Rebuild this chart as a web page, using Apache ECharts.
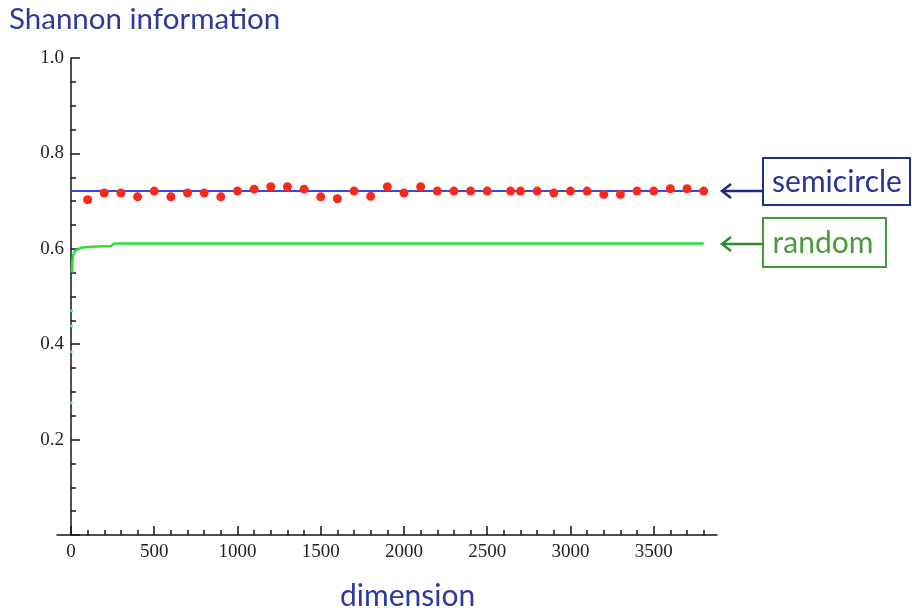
<!DOCTYPE html>
<html>
<head>
<meta charset="utf-8">
<script src="https://cdn.jsdelivr.net/npm/echarts@6/dist/echarts.min.js"></script>
<style>
html,body{margin:0;padding:0;background:#fff;}
#chart{width:912px;height:611px;}
</style>
</head>
<body>
<div id="chart"></div>
<script>
// ---- data ----
const semicircleDims = [100,200,300,400,500,600,700,800,900,1000,1100,1200,1300,1400,1500,1600,1700,1800,1900,2000,2100,2200,2300,2400,2500,2640,2700,2800,2900,3000,3100,3200,3300,3400,3500,3600,3700,3800];
const semicircleInfo = [0.703,0.717,0.717,0.709,0.721,0.709,0.717,0.717,0.709,0.721,0.725,0.730,0.730,0.725,0.709,0.705,0.721,0.710,0.730,0.717,0.730,0.721,0.721,0.721,0.721,0.721,0.721,0.721,0.717,0.721,0.721,0.714,0.714,0.721,0.721,0.726,0.726,0.721];
const semicircleLimitDims = [0, 3800];
const semicircleLimit = [0.7213, 0.7213];
const randomDims = [5, 8, 12, 20, 35, 60, 100, 150, 240, 260, 3800];
const randomInfo = [0.55, 0.57, 0.585, 0.593, 0.598, 0.602, 0.604, 0.605, 0.606, 0.611, 0.611];
const randomEarlyDims = [1, 2, 3, 4];
const randomEarlyInfo = [0.277, 0.384, 0.438, 0.47];
const xMajorTicks = [0,500,1000,1500,2000,2500,3000,3500];
const xMinorTicks = [100,200,300,400,600,700,800,900,1100,1200,1300,1400,1600,1700,1800,1900,2100,2200,2300,2400,2600,2700,2800,2900,3100,3200,3300,3400,3600,3700,3800];
const titleText = 'Shannon information';
const xTitle = 'dimension';
const labelSemicircle = 'semicircle';
const labelRandom = 'random';

const zip = (a, b) => a.map((v, i) => [v, b[i]]);

const chart = echarts.init(document.getElementById('chart'), null, {renderer: 'canvas'});
const serif = 'Liberation Serif';
const sans = 'Lato';
const axisColor = '#151515';

chart.setOption({
  animation: false,
  backgroundColor: '#ffffff',
  title: [
    {text: titleText, left: 4, top: -1, textStyle: {fontFamily: sans, fontSize: 29.5, fontWeight: 'normal', color: '#2d3a98'}},
    {text: xTitle, left: 335, top: 576, textStyle: {fontFamily: sans, fontSize: 30, fontWeight: 'normal', color: '#2a3aa0'}}
  ],
  grid: {left: 57, right: 195, top: 58, bottom: 76, containLabel: false},
  xAxis: [
    {
      type: 'value', min: -84, max: 3880,
      splitLine: {show: false},
      axisLine: {show: true, onZero: true, lineStyle: {color: axisColor, width: 1.5}},
      axisTick: {show: true, inside: true, length: 9, customValues: xMajorTicks, lineStyle: {color: axisColor, width: 1.5}},
      axisLabel: {show: true, customValues: xMajorTicks, margin: 8, fontFamily: serif, fontSize: 19, color: '#222', formatter: v => String(v)}
    },
    {
      type: 'value', min: -84, max: 3880, position: 'bottom',
      splitLine: {show: false},
      axisLine: {show: false},
      axisTick: {show: true, inside: true, length: 5, customValues: xMinorTicks, lineStyle: {color: axisColor, width: 1.5}},
      axisLabel: {show: false}
    }
  ],
  yAxis: {
    type: 'value', min: 0, max: 1.0, interval: 0.2,
    splitLine: {show: false},
    axisLine: {show: true, onZero: true, lineStyle: {color: axisColor, width: 1.5}},
    axisTick: {show: true, inside: true, length: 9, lineStyle: {color: axisColor, width: 1.5}},
    minorTick: {show: true, splitNumber: 4, length: 5, lineStyle: {color: axisColor, width: 1.5}},
    axisLabel: {
      margin: -7, fontFamily: serif, fontSize: 19, color: '#222',
      formatter: v => (v === 0 ? '' : v.toFixed(1))
    }
  },
  series: [
    {
      name: 'random', type: 'line', data: zip(randomDims, randomInfo),
      showSymbol: false, symbol: 'none', z: 2,
      lineStyle: {color: '#2fe02f', width: 2.5}
    },
    {
      name: 'random early', type: 'scatter', data: zip(randomEarlyDims, randomEarlyInfo),
      symbolSize: 3, z: 2,
      itemStyle: {color: '#6ee66e', opacity: 1}
    },
    {
      name: 'semicircle limit', type: 'line', data: zip(semicircleLimitDims, semicircleLimit),
      showSymbol: false, symbol: 'none', z: 3,
      lineStyle: {color: '#3a48e2', width: 2}
    },
    {
      name: 'semicircle', type: 'scatter', data: zip(semicircleDims, semicircleInfo),
      symbolSize: 9, z: 4,
      itemStyle: {color: '#f92a1c', opacity: 1}
    }
  ],
  graphic: [
    {type: 'rect', shape: {x: 763, y: 158, width: 147, height: 47}, style: {fill: '#fff', stroke: '#23308f', lineWidth: 2}},
    {type: 'text', x: 837, y: 182, style: {text: labelSemicircle, fontFamily: sans, fontSize: 30, fill: '#273594', align: 'center', verticalAlign: 'middle'}},
    {type: 'line', shape: {x1: 763, y1: 191, x2: 723, y2: 191}, style: {stroke: '#1c2a85', lineWidth: 2.5}},
    {type: 'polyline', shape: {points: [[731, 184], [722, 191], [731, 198]]}, style: {stroke: '#1c2a85', lineWidth: 2.5, fill: null}},
    {type: 'rect', shape: {x: 763, y: 218, width: 123, height: 49}, style: {fill: '#fff', stroke: '#3d9a3d', lineWidth: 2}},
    {type: 'text', x: 823, y: 243, style: {text: labelRandom, fontFamily: sans, fontSize: 30, fill: '#4a9a3a', align: 'center', verticalAlign: 'middle'}},
    {type: 'line', shape: {x1: 763, y1: 244, x2: 723, y2: 244}, style: {stroke: '#2e8b2e', lineWidth: 2.5}},
    {type: 'polyline', shape: {points: [[731, 237], [722, 244], [731, 251]]}, style: {stroke: '#2e8b2e', lineWidth: 2.5, fill: null}}
  ]
});
</script>
</body>
</html>
